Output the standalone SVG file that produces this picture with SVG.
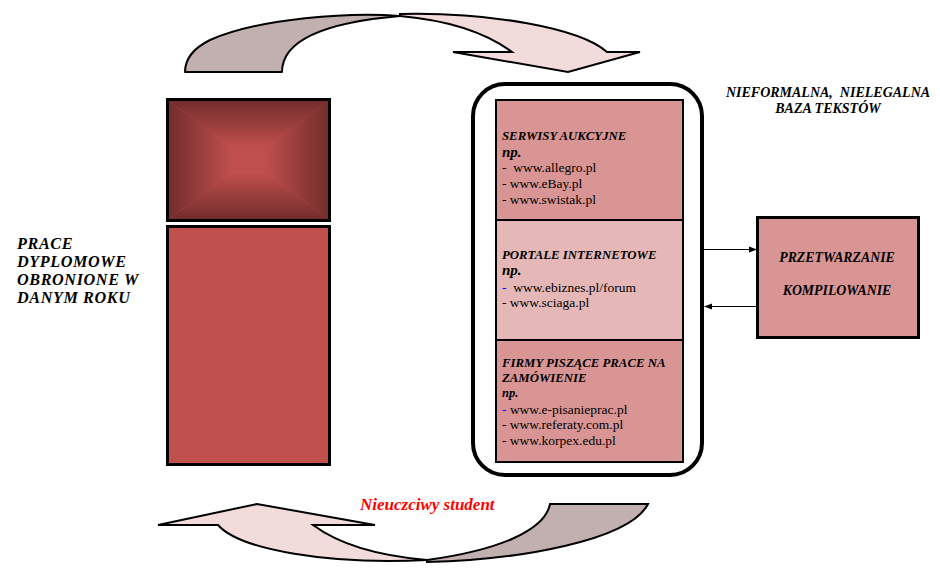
<svg xmlns="http://www.w3.org/2000/svg" width="940" height="575" viewBox="0 0 940 575">
<defs>
<style>
text{font-family:'Liberation Serif','DejaVu Serif',serif}
.bi{font-weight:bold;font-style:italic}
.h{font-size:12.8px}
.np{font-size:15px}
.u{font-size:13.5px}
.lbl{font-size:16.2px;letter-spacing:0.6px}
.box{stroke:#000;stroke-width:2}
.conn{stroke:#000;stroke-width:1;fill:none}
</style>
<linearGradient id="gT" x1="0" y1="0" x2="0" y2="1"><stop offset="0" stop-color="#732d2c"/><stop offset="0.8" stop-color="#c0504d"/></linearGradient>
<linearGradient id="gB" x1="0" y1="1" x2="0" y2="0"><stop offset="0" stop-color="#732d2c"/><stop offset="0.8" stop-color="#c0504d"/></linearGradient>
<linearGradient id="gL" x1="0" y1="0" x2="1" y2="0"><stop offset="0" stop-color="#732d2c"/><stop offset="0.8" stop-color="#c0504d"/></linearGradient>
<linearGradient id="gR" x1="1" y1="0" x2="0" y2="0"><stop offset="0" stop-color="#732d2c"/><stop offset="0.8" stop-color="#c0504d"/></linearGradient>
<marker id="ah" markerWidth="8" markerHeight="8" refX="7" refY="4" orient="auto" markerUnits="userSpaceOnUse"><path d="M0,1 L8,4 L0,7 Z" fill="#000"/></marker>
</defs>

<g id="arrow-top">
<path d="M185,72 L282,72 C282,38 330,22 400,16 C350,12 260,18 210,40 C192,49 185,60 185,72 Z" fill="#c2afaf" stroke="#000" stroke-width="2" stroke-linejoin="round"/>
<path d="M400,14 C490,12 580,28 607,52 L640,52 L568,72 L453,52 L512,52 C485,32 445,20 400,16 Z" fill="#f2dcdb" stroke="#000" stroke-width="2" stroke-linejoin="miter"/>
</g>

<g id="arrow-bottom">
<path d="M427,562 C520,560 630,540 648,504 L550,504 C545,530 500,550 427,560 Z" fill="#c2afaf" stroke="#000" stroke-width="2"/>
<path d="M158,525 L257,504 L375,525 L313,525 C340,545 380,556 427,560 C330,565 240,550 218,525 Z" fill="#f2dcdb" stroke="#000" stroke-width="2" stroke-linejoin="miter"/>
</g>

<g id="prace-top">
<rect x="167" y="99" width="163" height="122" fill="#c0504d"/>
<polygon points="169,101 328,101 248.5,160" fill="url(#gT)"/>
<polygon points="169,219 328,219 248.5,160" fill="url(#gB)"/>
<polygon points="169,101 169,219 248.5,160" fill="url(#gL)"/>
<polygon points="328,101 328,219 248.5,160" fill="url(#gR)"/>
<rect x="167.5" y="99.5" width="162" height="121" fill="none" stroke="#000" stroke-width="3"/>
</g>

<g id="prace-bottom">
<rect x="167.5" y="226.5" width="162" height="238" fill="#c0504d" stroke="#000" stroke-width="3"/>
</g>

<g id="prace-label">
<text class="bi lbl" x="17" y="249">PRACE</text>
<text class="bi lbl" x="17" y="267">DYPLOMOWE</text>
<text class="bi lbl" x="17" y="285">OBRONIONE W</text>
<text class="bi lbl" x="17" y="303">DANYM ROKU</text>
</g>

<g id="baza">
<rect x="473" y="84" width="229" height="391" rx="32" ry="32" fill="none" stroke="#000" stroke-width="4"/>
<text class="bi" font-size="14px" x="828" y="97" text-anchor="middle" xml:space="preserve">NIEFORMALNA,  NIELEGALNA</text>
<text class="bi" font-size="14px" x="828" y="113" text-anchor="middle">BAZA TEKSTÓW</text>
</g>

<g id="serwisy">
<rect class="box" x="496" y="100" width="187" height="120" fill="#d99594"/>
<text class="bi h" x="502" y="140">SERWISY AUKCYJNE</text>
<text class="bi np" x="502" y="157">np.</text>
<text class="u" x="502" y="172" xml:space="preserve">-  www.allegro.pl</text>
<text class="u" x="502" y="188">- www.eBay.pl</text>
<text class="u" x="502" y="204">- www.swistak.pl</text>
</g>

<g id="portale">
<rect class="box" x="496" y="220" width="187" height="120" fill="#e5b8b7"/>
<text class="bi h" x="502" y="259">PORTALE INTERNETOWE</text>
<text class="bi np" x="502" y="275">np.</text>
<text class="u" x="502" y="292" xml:space="preserve"><tspan fill="#0000ff">-</tspan>  www.ebiznes.pl/forum</text>
<text class="u" x="502" y="307">- www.sciaga.pl</text>
</g>

<g id="firmy">
<rect class="box" x="496" y="340" width="187" height="122" fill="#d99594"/>
<text class="bi h" x="502" y="367">FIRMY PISZĄCE PRACE NA</text>
<text class="bi h" x="502" y="382">ZAMÓWIENIE</text>
<text class="bi" font-size="12.5px" x="502" y="397">np.</text>
<text class="u" x="502" y="414"><tspan fill="#0000ff">-</tspan> www.e-pisanieprac.pl</text>
<text class="u" x="502" y="429">- www.referaty.com.pl</text>
<text class="u" x="502" y="445">- www.korpex.edu.pl</text>
</g>

<g id="przetwarzanie">
<rect x="757.5" y="217.5" width="161" height="120" fill="#d99594" stroke="#000" stroke-width="3"/>
<text class="bi" font-size="13.8px" x="837" y="262" text-anchor="middle">PRZETWARZANIE</text>
<text class="bi" font-size="13.8px" x="837" y="295" text-anchor="middle">KOMPILOWANIE</text>
</g>

<g id="connectors">
<line class="conn" x1="704" y1="249.5" x2="756" y2="249.5" marker-end="url(#ah)"/>
<line class="conn" x1="756" y1="306.5" x2="705" y2="306.5" marker-end="url(#ah)"/>
</g>

<g id="student">
<text class="bi" font-size="17px" x="360" y="510" fill="#ff0000">Nieuczciwy student</text>
</g>
</svg>
